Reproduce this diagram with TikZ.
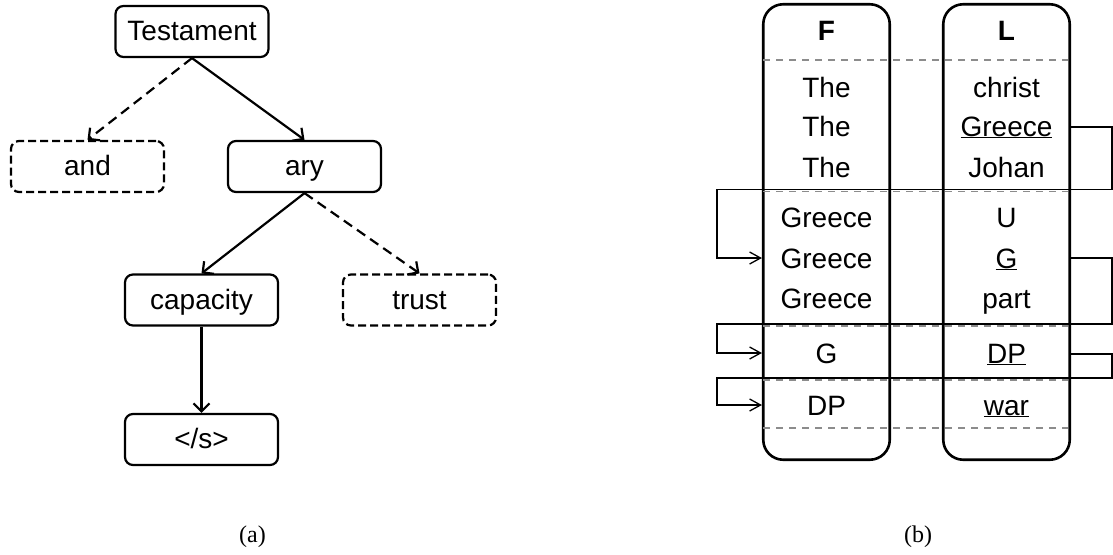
\documentclass[tikz,border=0pt]{standalone}
\usepackage{fontspec}
\setmainfont{Liberation Sans}
\newfontfamily\capfont{Liberation Serif}
\usetikzlibrary{arrows.meta}
\begin{document}
\begin{tikzpicture}[x=1pt,y=-1pt,
  font=\fontsize{28}{33}\selectfont,
  tbox/.style={draw,line width=2.2pt,rounded corners=8pt,minimum width=153pt,minimum height=51pt,inner sep=0pt,text height=21.5pt,text depth=3pt},
  dbox/.style={tbox,dash pattern=on 8pt off 4pt},
  tarrow/.style={line width=2.2pt,-{Straight Barb[length=8pt,width=16pt,line width=2.2pt]}},
  darrow/.style={tarrow,dash pattern=on 10pt off 6pt},
  colbox/.style={draw,line width=2.6pt,rounded corners=20pt,minimum width=126.5pt,minimum height=455.5pt,inner sep=0pt},
  word/.style={anchor=base,inner sep=0pt},
  sep/.style={draw=black!45,line width=1.6pt,dash pattern=on 7pt off 6pt},
  link/.style={line width=1.3pt},
  linkarrow/.style={link,-{Straight Barb[length=11pt,width=12pt,line width=1.3pt]}},
  caption/.style={font=\capfont\fontsize{24}{28}\selectfont}
]
\useasboundingbox (0,0) rectangle (1113,554);

% ---------- (a) tree ----------
\node[tbox] (testament) at (192,31.5) {Testament};
\node[dbox] (and) at (87.5,166.5) {and};
\node[tbox] (ary) at (304.5,166.5) {ary};
\node[tbox] (capacity) at (201.5,300) {capacity};
\node[dbox] (trust) at (419.5,300) {trust};
\node[tbox] (eos) at (201.5,439.5) {</s>};

\draw[darrow] (testament.south) -- (and.north);
\draw[tarrow] (testament.south) -- (ary.north);
\draw[tarrow] (ary.south) -- (capacity.north);
\draw[darrow] (ary.south) -- (trust.north);
\draw[tarrow] (capacity.south) -- (eos.north);

\node[caption] (capa) at (252.5,537) {(a)};

% ---------- (b) F / L columns ----------
\node[colbox] (Fcol) at (826.5,232) {};
\node[colbox] (Lcol) at (1006.5,232) {};

\foreach \y in {60,191.5,326,380,428}
  \draw[sep] (763,\y) -- (1068,\y);

\node[word] (Fh) at (826.5,40) {\bfseries F};
\node[word] (Lh) at (1006.5,40) {\bfseries L};

\node[word] (f1) at (826.5,97) {The};
\node[word] (f2) at (826.5,136) {The};
\node[word] (f3) at (826.5,177) {The};
\node[word] (f4) at (826.5,227) {Greece};
\node[word] (f5) at (826.5,268) {Greece};
\node[word] (f6) at (826.5,308) {Greece};
\node[word] (f7) at (826.5,363) {G};
\node[word] (f8) at (826.5,415) {DP};

\node[word] (l1) at (1006.5,97) {christ};
\node[word] (l2) at (1006.5,136) {\underline{Greece}};
\node[word] (l3) at (1006.5,177) {Johan};
\node[word] (l4) at (1006.5,227) {U};
\node[word] (l5) at (1006.5,268) {\underline{G}};
\node[word] (l6) at (1006.5,308) {part};
\node[word] (l7) at (1006.5,363) {\underline{DP}};
\node[word] (l8) at (1006.5,415) {\underline{war}};

% connectors
\coordinate (a1) at (1112,127);
\coordinate (a2) at (1112,189.5);
\coordinate (a3) at (717,189.5);
\coordinate (a4) at (717,258);
\draw[linkarrow] (Lcol.east |- a1) -- (a1) -- (a2) -- (a3) -- (a4) -- (Fcol.west |- a4);

\coordinate (b1) at (1112,258);
\coordinate (b2) at (1112,324);
\coordinate (b3) at (717,324);
\coordinate (b4) at (717,353);
\draw[linkarrow] (Lcol.east |- b1) -- (b1) -- (b2) -- (b3) -- (b4) -- (Fcol.west |- b4);

\coordinate (c1) at (1112,354);
\coordinate (c2) at (1112,378);
\coordinate (c3) at (717,378);
\coordinate (c4) at (717,405);
\draw[linkarrow] (Lcol.east |- c1) -- (c1) -- (c2) -- (c3) -- (c4) -- (Fcol.west |- c4);

\node[caption] (capb) at (918,537) {(b)};
\end{tikzpicture}
\end{document}
